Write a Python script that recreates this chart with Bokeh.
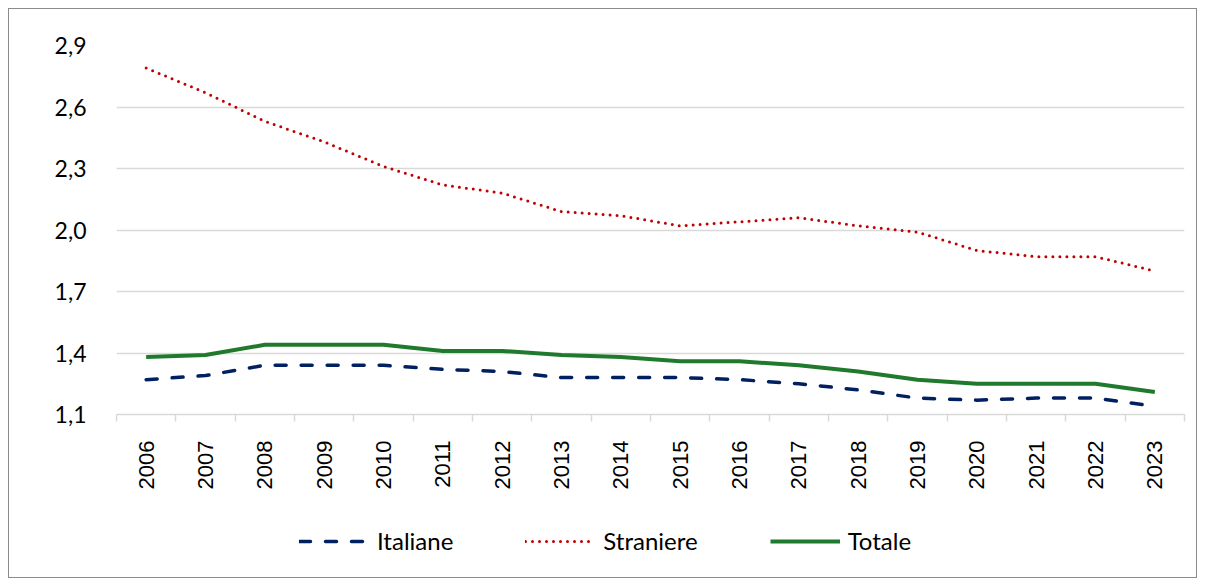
from bokeh.plotting import figure
from bokeh.layouts import column
from bokeh.models import Range1d, FixedTicker, CustomJSTickFormatter, Legend, LegendItem
from bokeh.embed import file_html
from bokeh.resources import INLINE
import math

years = [2006, 2007, 2008, 2009, 2010, 2011, 2012, 2013, 2014, 2015,
         2016, 2017, 2018, 2019, 2020, 2021, 2022, 2023]
italiane = [1.27, 1.29, 1.34, 1.34, 1.34, 1.32, 1.31, 1.28, 1.28, 1.28,
            1.27, 1.25, 1.22, 1.18, 1.17, 1.18, 1.18, 1.14]
straniere = [2.79, 2.67, 2.53, 2.43, 2.31, 2.22, 2.18, 2.09, 2.07, 2.02,
             2.04, 2.06, 2.02, 1.99, 1.90, 1.87, 1.87, 1.80]
totale = [1.38, 1.39, 1.44, 1.44, 1.44, 1.41, 1.41, 1.39, 1.38, 1.36,
          1.36, 1.34, 1.31, 1.27, 1.25, 1.25, 1.25, 1.21]
y_ticks = [1.1, 1.4, 1.7, 2.0, 2.3, 2.6, 2.9]
series_names = ["Italiane", "Straniere", "Totale"]

BORDER = "1px solid #8c8c8c"
styles = [
    dict(line_color="#002060", line_width=3.5, line_dash="11 15", line_cap="round"),
    dict(line_color="#C00000", line_width=3, line_dash="0 7", line_cap="round"),
    dict(line_color="#1F7A2E", line_width=4),
]

# ---------------- main chart ----------------
p = figure(frame_width=1066, frame_height=368, output_backend="svg", toolbar_location=None,
           x_range=Range1d(years[0] - 0.5, years[-1] + 0.5),
           y_range=Range1d(y_ticks[0], y_ticks[-1]),
           min_border_left=107, min_border_right=14, min_border_top=36,
           min_border_bottom=80)
p.margin = (8, 8, 0, 8)
p.styles = {"border-top": BORDER, "border-left": BORDER, "border-right": BORDER}
p.outline_line_color = None
p.background_fill_color = "white"
p.border_fill_color = "white"

for vals, st in zip([italiane, straniere, totale], styles):
    p.line(years, vals, **st)

xa = p.xaxis[0]
boundaries = [y - 0.5 for y in years] + [years[-1] + 0.5]
xa.ticker = FixedTicker(ticks=years, minor_ticks=boundaries)
xa.major_tick_out = 0
xa.major_tick_in = 0
xa.minor_tick_out = 7
xa.minor_tick_in = 0
xa.minor_tick_line_color = "#d9d9d9"
xa.minor_tick_line_width = 1.5
xa.axis_line_color = "#d9d9d9"
xa.axis_line_width = 1.5
xa.major_label_orientation = math.pi / 2
xa.major_label_text_font = "Liberation Sans"
xa.major_label_text_font_size = "22px"
xa.major_label_text_color = "black"
xa.major_label_standoff = 19

ya = p.yaxis[0]
ya.ticker = FixedTicker(ticks=y_ticks)
ya.formatter = CustomJSTickFormatter(code="return tick.toFixed(1).replace('.', ',');")
ya.axis_line_color = None
ya.major_tick_line_color = None
ya.minor_tick_line_color = None
ya.major_label_text_font = "Lato"
ya.major_label_text_font_size = "23px"
ya.major_label_text_color = "black"
ya.major_label_standoff = 24

p.xgrid.grid_line_color = None
p.ygrid.grid_line_color = "#d9d9d9"
p.ygrid.grid_line_width = 1.5
p.ygrid.ticker = FixedTicker(ticks=y_ticks)

# ---------------- legend strip ----------------
q = figure(width=1189, height=85, output_backend="svg", toolbar_location=None,
           x_range=Range1d(0, 1), y_range=Range1d(10, 11),
           x_axis_location=None, y_axis_location=None,
           min_border=0)
q.margin = (0, 8, 0, 8)
q.styles = {"border-bottom": BORDER, "border-left": BORDER, "border-right": BORDER}
q.outline_line_color = None
q.grid.visible = False
q.border_fill_color = "white"

rs = []
for vals, st in zip([italiane, straniere, totale], styles):
    rs.append(q.line(years, vals, **st))   # outside visible range: only legend shows

legend = Legend(items=[LegendItem(label=n, renderers=[r]) for n, r in zip(series_names, rs)],
                orientation="horizontal", location=(183, 23),
                glyph_width=70, glyph_height=26, label_standoff=8, spacing=72,
                padding=0, margin=0, border_line_color=None,
                background_fill_alpha=0,
                label_text_font="Lato", label_text_font_size="24px",
                label_text_color="black")
q.add_layout(legend, "center")

layout = column(p, q, spacing=0)
open("out.html", "w").write(file_html(layout, INLINE))
